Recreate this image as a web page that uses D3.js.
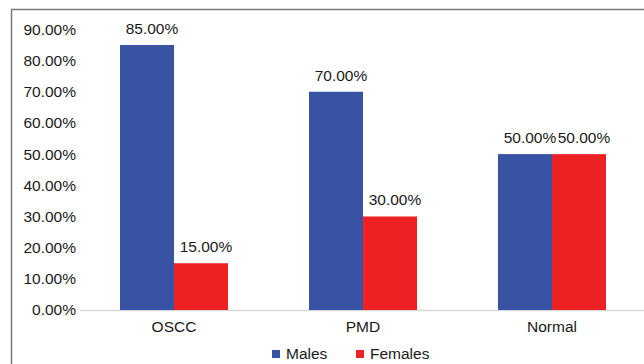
<!DOCTYPE html>
<html>
<head>
<meta charset="utf-8">
<script src="https://cdn.jsdelivr.net/npm/d3@7/dist/d3.min.js"></script>
<style>
  html, body { margin: 0; padding: 0; background: #fff; }
  svg { display: block; }
  text { font-family: "Liberation Sans", Arial, sans-serif; fill: #1a1a1a; }
</style>
</head>
<body>
<svg id="chart" width="644" height="364"></svg>
<script>
// Share of males and females in each study group
const groups = ["OSCC", "PMD", "Normal"];
const seriesNames = ["Males", "Females"];
const males = [85, 70, 50];
const females = [15, 30, 50];
const yTicks = [0, 10, 20, 30, 40, 50, 60, 70, 80, 90];
const seriesColors = ["#3953a4", "#ee2224"];

const svg = d3.select("#chart");
const W = 644, H = 364;
const plot = { left: 80, right: 646, top: 29.4, bottom: 310 };
const fontSize = "15.5px";

// outer frame
svg.append("rect")
  .attr("x", 11.5).attr("y", 9.5)
  .attr("width", W + 20).attr("height", H + 20)
  .attr("fill", "none").attr("stroke", "#7a7a7a").attr("stroke-width", 1.5);

const x0 = d3.scaleBand().domain(groups).range([plot.left - 0.5, plot.right + 0.5]).paddingInner(0).paddingOuter(0);
const bandW = x0.bandwidth();
const barW = 54;
const x1 = d3.scaleBand().domain(seriesNames)
  .range([bandW / 2 - barW, bandW / 2 + barW]).padding(0);

const y = d3.scaleLinear().domain([0, 90]).range([plot.bottom, plot.top]);

// baseline
svg.append("line")
  .attr("x1", plot.left).attr("x2", W)
  .attr("y1", y(0) + 0.5).attr("y2", y(0) + 0.5)
  .attr("stroke", "#d9d9d9").attr("stroke-width", 1.5);

// y axis labels
const yAxis = d3.axisLeft(y).tickValues(yTicks)
  .tickFormat(d => d.toFixed(2) + "%").tickSize(0).tickPadding(4);
const yg = svg.append("g").attr("transform", `translate(${plot.left},0)`).call(yAxis);
yg.select(".domain").remove();
yg.selectAll("text").attr("font-size", fontSize).attr("font-family", "Liberation Sans, Arial, sans-serif").attr("fill", "#1a1a1a");

// x axis labels
const xAxis = d3.axisBottom(x0).tickSize(0).tickPadding(11);
const xg = svg.append("g").attr("transform", `translate(0,${plot.bottom})`).call(xAxis);
xg.select(".domain").remove();
xg.selectAll("text").attr("font-size", fontSize).attr("font-family", "Liberation Sans, Arial, sans-serif").attr("fill", "#1a1a1a");

// bars
const rows = groups.map((g, i) => ({ group: g, values: [males[i], females[i]] }));
const gGroups = svg.selectAll("g.grp").data(rows).join("g")
  .attr("class", "grp")
  .attr("transform", d => `translate(${x0(d.group)},0)`);

gGroups.selectAll("rect")
  .data(d => d.values.map((v, k) => ({ key: seriesNames[k], value: v, k })))
  .join("rect")
  .attr("x", d => x1(d.key))
  .attr("width", x1.bandwidth())
  .attr("y", d => y(d.value))
  .attr("height", d => y(0) - y(d.value))
  .attr("fill", d => seriesColors[d.k]);

// value labels
gGroups.selectAll("text.val")
  .data(d => d.values.map((v, k) => ({ key: seriesNames[k], value: v, k })))
  .join("text")
  .attr("class", "val")
  .attr("x", d => x1(d.key) + x1.bandwidth() / 2 + 5)
  .attr("y", d => y(d.value) - 11)
  .attr("text-anchor", "middle")
  .attr("font-size", fontSize)
  .text(d => d.value.toFixed(2) + "%");

// legend
const legend = svg.append("g");
const legendX = [272, 356];
seriesNames.forEach((name, k) => {
  legend.append("rect")
    .attr("x", legendX[k]).attr("y", 350)
    .attr("width", 8).attr("height", 8)
    .attr("fill", seriesColors[k]);
  legend.append("text")
    .attr("x", legendX[k] + 14).attr("y", 358.5)
    .attr("font-size", fontSize)
    .text(name);
});
</script>
</body>
</html>
